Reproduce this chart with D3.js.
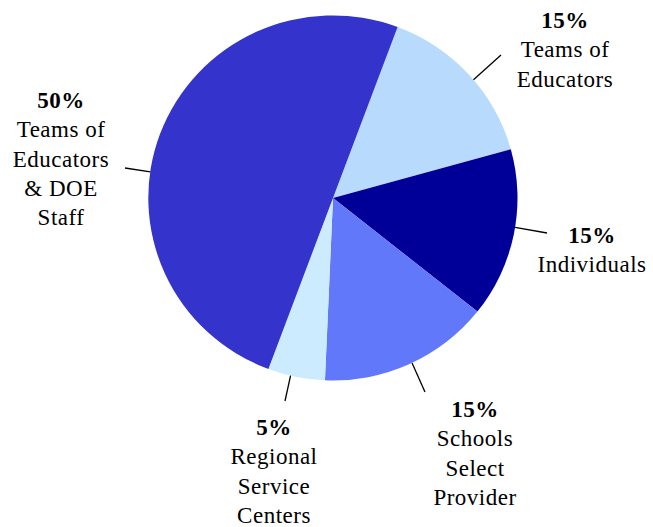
<!DOCTYPE html>
<html><head><meta charset="utf-8"><script src="https://cdn.jsdelivr.net/npm/d3@7"></script></head>
<body style="margin:0">
<script>
// slices in clockwise order, starting from the top-right edge
const categories = [
  ["Teams of", "Educators"],
  ["Individuals"],
  ["Schools", "Select", "Provider"],
  ["Regional", "Service", "Centers"],
  ["Teams of", "Educators", "& DOE", "Staff"]
];
const values = [15, 15, 15, 5, 50];
const colors = ["#B8DAFC", "#000099", "#6178FA", "#CCEBFF", "#3434CC"];

// label placement (text centre x, first baseline y, leader end point)
const labelPos = [
  { x: 565, y: 28, lx: 501, ly: 55 },
  { x: 592, y: 243, lx: 547, ly: 233 },
  { x: 475, y: 417, lx: 425, ly: 392 },
  { x: 274, y: 435, lx: 285, ly: 401 },
  { x: 61, y: 108, lx: 125, ly: 168 }
];

const W = 653, H = 527;
const cx = 333, cy = 198, rx = 184.5, ry = 182.5;
const startDeg = 20.5;
const lineH = 29.3;

const svg = d3.select("body").append("svg")
  .attr("width", W)
  .attr("height", H);

const pie = d3.pie().sort(null).value(d => d)
  .startAngle(startDeg * Math.PI / 180)
  .endAngle((startDeg + 360) * Math.PI / 180);

const arc = d3.arc().innerRadius(0).outerRadius(rx);

const pieG = svg.append("g")
  .attr("transform", `translate(${cx},${cy}) scale(1,${ry / rx})`);

pieG.selectAll("path")
  .data(pie(values))
  .enter()
  .append("path")
  .attr("d", arc)
  .attr("fill", (d, i) => colors[i]);

// leader lines: from pie edge toward the label end
labelPos.forEach(p => {
  const a = Math.atan2(p.ly - cy, p.lx - cx);
  svg.append("line")
    .attr("x1", cx + rx * Math.cos(a))
    .attr("y1", cy + ry * Math.sin(a))
    .attr("x2", p.lx)
    .attr("y2", p.ly)
    .attr("stroke", "#000")
    .attr("stroke-width", 1.3);
});

// labels, one text element per line
values.forEach((v, i) => {
  const p = labelPos[i];
  const lines = [v + "%"].concat(categories[i]);
  lines.forEach((line, j) => {
    svg.append("text")
      .attr("x", p.x)
      .attr("y", p.y + j * lineH)
      .attr("text-anchor", "middle")
      .attr("font-size", 23)
      .attr("font-weight", j === 0 ? "bold" : null)
      .style("font-family", "Liberation Serif")
      .style("letter-spacing", "0.5px")
      .text(line);
  });
});
</script>
</body></html>
